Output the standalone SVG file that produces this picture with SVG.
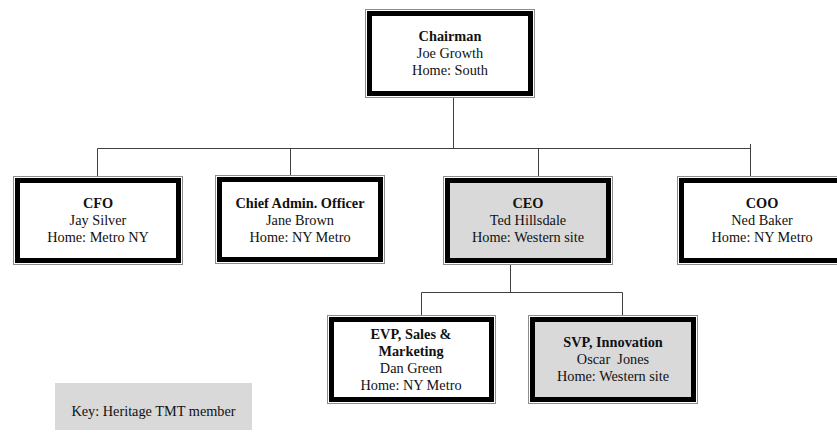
<svg xmlns="http://www.w3.org/2000/svg" width="837" height="437" viewBox="0 0 837 437">
<style>
.o{fill:#ffffff;stroke:#8c8c8c;stroke-width:1}
.k{fill:#ffffff;stroke:#000000;stroke-width:5}
.g{fill:#d9d9d9}
text{font-family:"Liberation Serif","Times New Roman",serif;font-size:14.3px;fill:#111;text-anchor:middle}
.b{font-weight:bold}
.c{fill:none;stroke:#404040;stroke-width:1}
</style>
<g id="connectors">
<path class="c" d="M453.5,98 V148.5 M97.5,148.5 H750.5 M97.5,148.5 V176 M290.5,148.5 V175 M538.5,148.5 V176 M750.5,144 V177"/>
<path class="c" d="M510.5,265 V292.5 M421.5,292.5 H622.5 M421.5,292.5 V315 M622.5,292.5 V315"/>
</g>
<g id="chairman">
<rect class="o" x="365.5" y="9.5" width="169" height="88"/>
<rect class="k" x="369.5" y="13.5" width="161" height="80"/>
<text x="450" y="41" class="b">Chairman</text>
<text x="450" y="58">Joe Growth</text>
<text x="450" y="75">Home: South</text>
</g>
<g id="cfo">
<rect class="o" x="13.5" y="176.5" width="169" height="88"/>
<rect class="k" x="17.5" y="180.5" width="161" height="80"/>
<text x="98" y="208" class="b">CFO</text>
<text x="98" y="225">Jay Silver</text>
<text x="98" y="242">Home: Metro NY</text>
</g>
<g id="cao">
<rect class="o" x="215.5" y="175.5" width="169" height="88"/>
<rect class="k" x="219.5" y="179.5" width="161" height="80"/>
<text x="300" y="208" class="b">Chief Admin. Officer</text>
<text x="300" y="225">Jane Brown</text>
<text x="300" y="242">Home: NY Metro</text>
</g>
<g id="ceo">
<rect class="o" x="443.5" y="176.5" width="169" height="88"/>
<rect class="k g" x="447.5" y="180.5" width="161" height="80"/>
<text x="528" y="208" class="b">CEO</text>
<text x="528" y="225">Ted Hillsdale</text>
<text x="528" y="242">Home: Western site</text>
</g>
<g id="coo">
<rect class="o" x="677.5" y="176.5" width="169" height="88"/>
<rect class="k" x="681.5" y="180.5" width="161" height="80"/>
<text x="762" y="208" class="b">COO</text>
<text x="762" y="225">Ned Baker</text>
<text x="762" y="242">Home: NY Metro</text>
</g>
<g id="evp">
<rect class="o" x="327.5" y="315.5" width="168" height="88"/>
<rect class="k" x="331.5" y="319.5" width="160" height="80"/>
<text x="411" y="339" class="b">EVP, Sales &amp;</text>
<text x="411" y="356" class="b">Marketing</text>
<text x="411" y="373">Dan Green</text>
<text x="411" y="390">Home: NY Metro</text>
</g>
<g id="svp">
<rect class="o" x="528.5" y="315.5" width="169" height="88"/>
<rect class="k g" x="532.5" y="319.5" width="161" height="80"/>
<text x="613" y="347" class="b">SVP, Innovation</text>
<text x="613" y="364" xml:space="preserve">Oscar  Jones</text>
<text x="613" y="381">Home: Western site</text>
</g>
<g id="key">
<rect class="g" x="55" y="383" width="197" height="47"/>
<text x="153.5" y="416">Key: Heritage TMT member</text>
</g>
</svg>
